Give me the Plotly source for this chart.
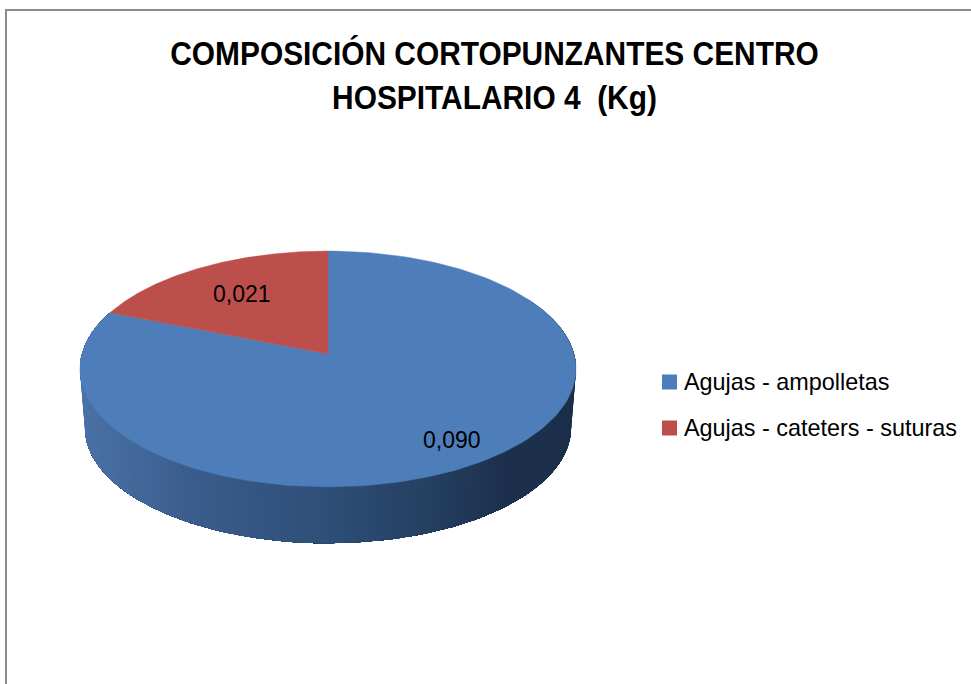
"""Perspective 3D pie in the look of a spreadsheet chart; plotly has no tilted pie,
so the faces are filled scatter traces projected from the slice values."""
import numpy as np
import plotly.graph_objects as go

TITLE = "COMPOSICIÓN CORTOPUNZANTES CENTRO<br>HOSPITALARIO 4\u00a0 (Kg)"
categories = ["Agujas - ampolletas", "Agujas - cateters - suturas"]
values = [0.090, 0.021]
colors = ["#4D7EBA", "#BC4F4C"]

WIDTH, HEIGHT = 971, 684
FONT = "'Liberation Sans', sans-serif"

# projection of the pie disc on the page, in pixels
APEX_X, APEX_Y = 328, 354
RADIUS_X, RADIUS_Y = 246, 116
TILT = 0.127
# lower disc, the bottom edge of the wall
DROP = 59
SHRINK = 0.98

# where each value label sits, as a fraction of the radius
LABEL_RADIUS = [0.82, 0.67]

# wall shading by page x
WALL_X = [85, 200, 328, 440, 500, 572]
WALL_R = [74, 58, 47, 36, 29, 28]
WALL_G = [114, 92, 79, 62, 49, 47]
WALL_B = [166, 140, 120, 94, 78, 74]

# the reference title is a narrow bold face, no such font is installed
POST_SCRIPT = """
document.body.style.margin = '0';
var t = document.querySelector('.gtitle');
var b = t.getBBox();
var cx = b.x + b.width / 2;
t.setAttribute('transform', 'translate(' + cx + ',0) scale(0.879,1) translate(' + (-cx) + ',0)');
"""


def project(theta, r=1.0, drop=0.0, scale=1.0):
    """theta in degrees, clockwise from the top of the pie."""
    t = np.radians(theta)
    u, v = r * np.sin(t), r * np.cos(t)
    d = 1 + TILT * v
    return APEX_X + scale * RADIUS_X * u / d, APEX_Y + drop - scale * RADIUS_Y * v / d


fig = go.Figure()

total = sum(values)
edges = np.cumsum([0] + values) / total * 360

# wall first, the top faces are painted over it. Each band also covers everything
# still to come, so no white shows through between neighbouring bands.
angles = np.linspace(60, min(edges[1], 300), 161)
for i in range(len(angles) - 1):
    rest = angles[i:]
    x_top, y_top = project(rest)
    x_low, y_low = project(rest[::-1], drop=DROP, scale=SHRINK)
    xm = (x_top[0] + x_top[1] + x_low[-1] + x_low[-2]) / 4
    c = "rgb(%d,%d,%d)" % (np.interp(xm, WALL_X, WALL_R), np.interp(xm, WALL_X, WALL_G), np.interp(xm, WALL_X, WALL_B))
    fig.add_trace(go.Scatter(
        x=list(x_top) + list(x_low), y=list(y_top) + list(y_low),
        mode="lines", fill="toself", fillcolor=c, line=dict(color=c, width=0),
        showlegend=False, hoverinfo="skip",
    ))

for i, (label, value) in enumerate(zip(categories, values)):
    rim = np.linspace(edges[i], edges[i + 1], 180)
    x_rim, y_rim = project(rim)
    fig.add_trace(go.Scatter(
        x=[APEX_X] + list(x_rim) + [APEX_X], y=[APEX_Y] + list(y_rim) + [APEX_Y],
        mode="lines", fill="toself", fillcolor=colors[i], line=dict(color=colors[i], width=0.5),
        name=label, showlegend=False, hovertemplate=f"{label}: {value:.3f}<extra></extra>",
    ))
    x_lab, y_lab = project((edges[i] + edges[i + 1]) / 2, r=LABEL_RADIUS[i])
    fig.add_annotation(
        x=x_lab, y=y_lab, text=f"{value:.3f}".replace(".", ","), showarrow=False,
        font=dict(family=FONT, size=23, color="#000000"), xanchor="center", yanchor="middle",
    )

# legend drawn by hand, plotly's swatch gap and row height do not go this tight
for i, label in enumerate(categories):
    row_y = 382 + 46 * i
    fig.add_shape(type="rect", x0=662, x1=677, y0=row_y - 7.5, y1=row_y + 7.5, fillcolor=colors[i], line_width=0)
    fig.add_annotation(
        x=682, y=row_y, text=label, showarrow=False, xanchor="left", yanchor="middle",
        font=dict(family=FONT, size=23.4, color="#000000"),
    )

# chart frame, its right and bottom sides are cut off in the picture
fig.add_shape(type="line", x0=6, x1=6, y0=9, y1=HEIGHT, line=dict(color="#8C8C8C", width=2))
fig.add_shape(type="line", x0=5, x1=WIDTH, y0=10, y1=10, line=dict(color="#8C8C8C", width=2))

fig.update_layout(
    width=WIDTH, height=HEIGHT,
    margin=dict(l=0, r=0, t=0, b=0),
    paper_bgcolor="#FFFFFF", plot_bgcolor="#FFFFFF",
    showlegend=False,
    title=dict(
        text=TITLE, x=494.5 / WIDTH, xanchor="center", y=1 - 65 / HEIGHT, yanchor="top",
        font=dict(family=FONT, size=34, color="#000000", weight="bold"),
    ),
)
fig.update_xaxes(range=[0, WIDTH], visible=False, fixedrange=True)
fig.update_yaxes(range=[HEIGHT, 0], visible=False, fixedrange=True)

fig.write_html("out.html", config=dict(displayModeBar=False), post_script=POST_SCRIPT)
